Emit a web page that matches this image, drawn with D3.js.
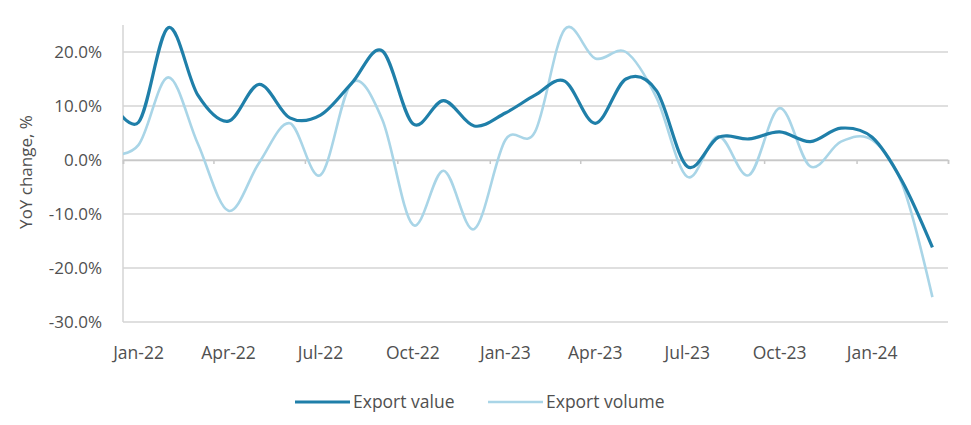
<!DOCTYPE html>
<html>
<head>
<meta charset="utf-8">
<script src="https://cdn.jsdelivr.net/npm/d3@7"></script>
<style>
  body { margin: 0; background: #fff; }
  text { font-family: "Open Sans", "Noto Sans", sans-serif; fill: #505050; }
</style>
</head>
<body>
<div id="chart"></div>
<script>
// monthly YoY change, % (Dec-21 is only partly visible, clipped at the axis)
var months = ["2021-12","2022-01","2022-02","2022-03","2022-04","2022-05","2022-06",
  "2022-07","2022-08","2022-09","2022-10","2022-11","2022-12","2023-01","2023-02",
  "2023-03","2023-04","2023-05","2023-06","2023-07","2023-08","2023-09","2023-10",
  "2023-11","2023-12","2024-01","2024-02","2024-03"];
var exportValue = [12, 7, 24.5, 12, 7.2, 14, 7.8, 8.3, 14.2, 20.2, 6.7, 11, 6.3,
  8.7, 12, 14.6, 6.8, 15, 12.8, -1.2, 4.2, 3.9, 5.2, 3.4, 5.9, 4.2, -4, -16.2];
var exportVolume = [1, 2.8, 15.3, 3, -9.4, -0.5, 6.8, -2.8, 14.3, 7.5, -12, -2, -12.8,
  3.7, 5.2, 24.2, 18.8, 20, 11.5, -3.1, 4.4, -2.8, 9.6, -1.2, 3.4, 3.7, -4.5, -25.4];
var seriesNames = ["Export value", "Export volume"];
var yTicks = [-30, -20, -10, 0, 10, 20];
var xTickMonths = ["2022-01","2022-04","2022-07","2022-10","2023-01","2023-04",
  "2023-07","2023-10","2024-01","2024-04"];

var width = 971, height = 425;
var plot = {left: 123, right: 948, top: 25, bottom: 322};
var colors = ["#1f7fa9", "#a9d5e7"];
var widths = [3.2, 2.6];

var parseMonth = d3.timeParse("%Y-%m");
var midMonth = function(d) {
  return new Date((+d + +d3.timeMonth.offset(d, 1)) / 2);
};

var x = d3.scaleTime()
  .domain([parseMonth("2022-01"), parseMonth("2024-04")])
  .range([plot.left, plot.right]);
var y = d3.scaleLinear().domain([-30, 25]).range([plot.bottom, plot.top]);

var svg = d3.select("#chart").append("svg")
  .attr("width", width).attr("height", height);

// grid lines
svg.append("g").attr("class", "grid-lines")
  .selectAll("line").data(yTicks).enter().append("line")
  .attr("x1", plot.left).attr("x2", plot.right)
  .attr("y1", function(d){ return y(d); }).attr("y2", function(d){ return y(d); })
  .style("stroke", "#d4d4d4").style("stroke-width", 1.5);

// y axis line + labels
svg.append("line")
  .attr("x1", plot.left).attr("x2", plot.left)
  .attr("y1", plot.top).attr("y2", plot.bottom)
  .style("stroke", "#d4d4d4").style("stroke-width", 1.5);
svg.append("g").selectAll("text").data(yTicks).enter().append("text")
  .attr("x", plot.left - 21)
  .attr("y", function(d){ return y(d); })
  .attr("dy", "0.36em")
  .attr("text-anchor", "end")
  .style("font-size", "17px")
  .text(function(d){ return d.toFixed(1) + "%"; });

svg.append("text")
  .attr("transform", "translate(32," + 172 + ") rotate(-90)")
  .attr("text-anchor", "middle")
  .style("font-size", "17px")
  .text("YoY change, %");

// x axis at zero
var xTickDates = xTickMonths.map(parseMonth);
var xAxis = d3.axisBottom(x).tickValues(xTickDates).tickSize(4).tickFormat("");
var gx = svg.append("g").attr("class", "x-axis")
  .attr("transform", "translate(0," + y(0) + ")")
  .call(xAxis);
gx.select(".domain").style("stroke", "#c8c8c8").style("stroke-width", 1.5);
gx.selectAll(".tick line").style("stroke", "#c8c8c8").style("stroke-width", 1.5);

svg.append("g").selectAll("text").data(xTickDates.slice(0, -1)).enter().append("text")
  .attr("x", function(d){ return x(midMonth(d)); })
  .attr("y", 359)
  .attr("text-anchor", "middle")
  .style("font-size", "17.5px")
  .text(d3.timeFormat("%b-%y"));

// lines
svg.append("clipPath").attr("id", "plot-area")
  .append("rect")
  .attr("x", plot.left).attr("y", 0)
  .attr("width", plot.right - plot.left).attr("height", height);

var dates = months.map(function(m){ return midMonth(parseMonth(m)); });
var line = d3.line()
  .x(function(d, i){ return x(dates[i]); })
  .y(function(d){ return y(d); })
  .curve(d3.curveCardinal.tension(0));

[exportVolume, exportValue].forEach(function(vals, k) {
  var s = 1 - k;
  svg.append("path")
    .attr("clip-path", "url(#plot-area)")
    .attr("d", line(vals))
    .style("fill", "none")
    .style("stroke", colors[s])
    .style("stroke-width", widths[s])
    .style("stroke-linejoin", "round");
});

// legend
var legendPos = [295, 488];
var legend = svg.append("g").selectAll("g").data(seriesNames).enter().append("g")
  .attr("transform", function(d, i){ return "translate(" + legendPos[i] + ",402)"; });
legend.append("line")
  .attr("x1", 0).attr("x2", 55)
  .style("stroke", function(d, i){ return colors[i]; })
  .style("stroke-width", function(d, i){ return widths[i]; });
legend.append("text")
  .attr("x", 58).attr("dy", "0.35em")
  .style("font-size", "17.5px")
  .text(function(d){ return d; });
</script>
</body>
</html>
